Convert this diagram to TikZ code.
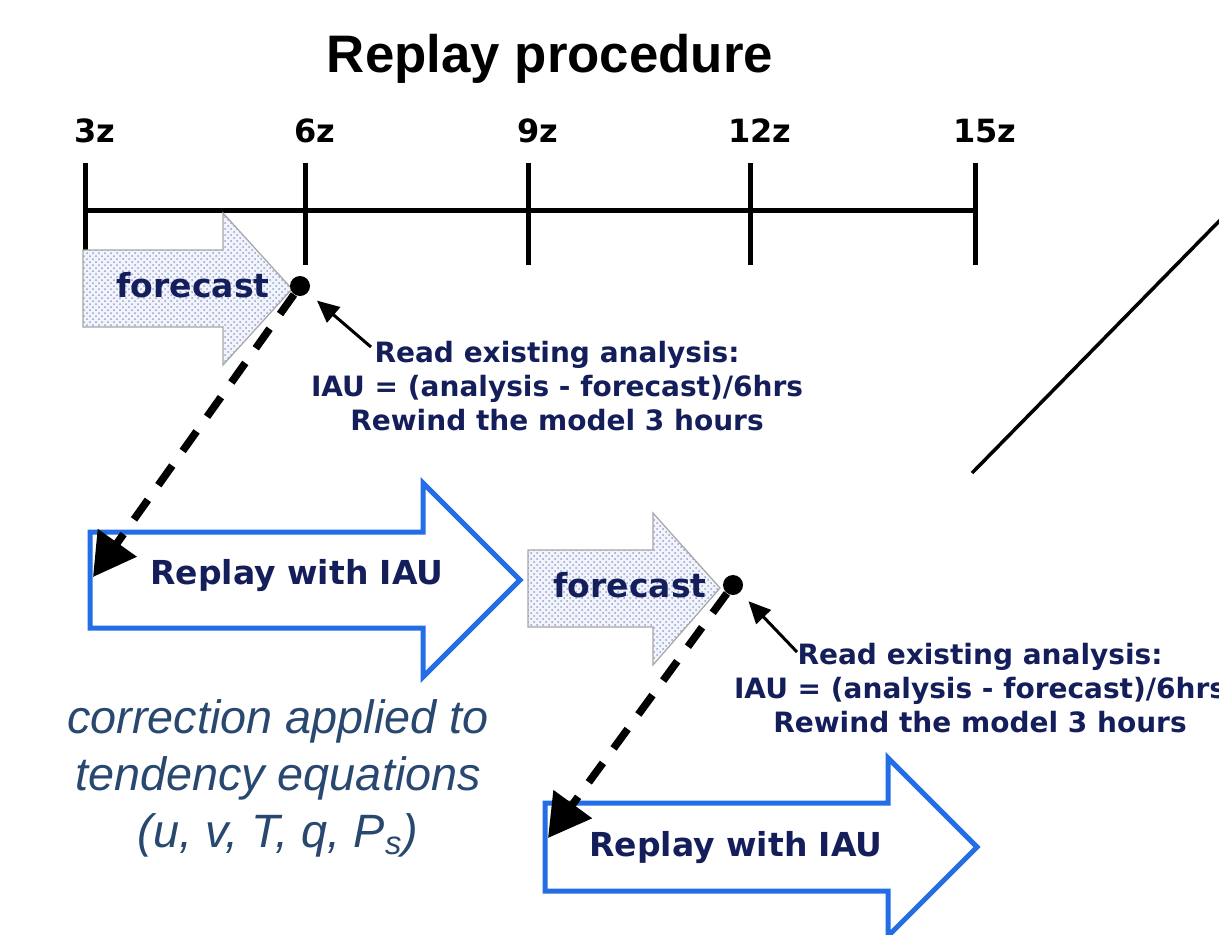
\documentclass[tikz,border=0pt]{standalone}
\usepackage{fontspec}
\setmainfont{DejaVu Sans}
\newfontfamily\arialfont{Liberation Sans}
\usetikzlibrary{arrows.meta,patterns}
\definecolor{navy}{RGB}{20,30,90}
\definecolor{boxblue}{RGB}{35,110,230}
\definecolor{steel}{RGB}{40,72,112}
\definecolor{dotcol}{RGB}{150,158,205}
\definecolor{fcfill}{RGB}{242,244,252}
\tikzset{
  tl/.style={line width=2.5pt},
  ticklab/.style={font=\bfseries\fontsize{16}{18}\selectfont, anchor=base},
  fcshape/.style={draw=gray!70, line width=0.6pt, preaction={fill=fcfill}, pattern=crosshatch dots, pattern color=dotcol},
  rpshape/.style={draw=boxblue, line width=2.5pt, fill=white, line join=miter},
  comic/.style={text=navy, font=\bfseries\fontsize{16.5}{20}\selectfont},
  note/.style={text=navy, font=\bfseries\fontsize{14}{17}\selectfont, align=center},
  dotn/.style={circle, fill=black, inner sep=0pt, minimum size=10pt},
  dasharrow/.style={line width=3.8pt, dash pattern=on 12pt off 9pt, -{Triangle[length=21pt,width=23pt]}},
  ptr/.style={line width=1.5pt, shorten >=6pt, -{Triangle[length=11pt,width=10pt]}},
  ital/.style={text=steel, font=\arialfont\itshape\fontsize{23.4}{28.5}\selectfont, align=center},
}
\begin{document}
\begin{tikzpicture}[x=0.5pt,y=-0.5pt]
\useasboundingbox (0,0) rectangle (1219,934);
% title
\node[font=\arialfont\bfseries\fontsize{26.4}{30}\selectfont, anchor=base] (title) at (550,72) {Replay procedure};
% timeline
\draw[tl] (85,210) -- (975,210);
\foreach \x/\l [count=\i] in {85/3z,305/6z,528/9z,750/12z,975/15z}{
  \draw[tl] (\x,163) -- (\x,265);
  \node[ticklab] (t\i) at (\x+10,142) {\l};
}
% forecast 1
\path[fcshape] (83,250) -- (223,250) -- (223,213) -- (292,289) -- (223,365) -- (223,327) -- (83,327) -- cycle;
\node[comic] (f1) at (193,285) {forecast};
% replay 1
\path[rpshape] (90,532) -- (423,532) -- (423,483) -- (520,580) -- (423,677) -- (423,628) -- (90,628) -- cycle;
\node[comic] (r1) at (297,576) {Replay with IAU};
% forecast 2
\path[fcshape] (528,550) -- (653,550) -- (653,513) -- (720,588) -- (653,665) -- (653,627) -- (528,627) -- cycle;
\node[comic] (f2) at (630,585) {forecast};
% replay 2
\path[rpshape] (545,803) -- (888,803) -- (888,758) -- (977,847) -- (888,936) -- (888,891) -- (545,891) -- cycle;
\node[comic] (r2) at (736,848) {Replay with IAU};
% dots
\node[dotn] (d1) at (300,286) {};
\node[dotn] (d2) at (733,585) {};
\coordinate (r1in) at (93,577);
\coordinate (r2in) at (548,838);
\draw[dasharrow] (d1) -- (r1in);
\draw[dasharrow] (d2) -- (r2in);
% notes
\node[note] (n1) at (557,386) {Read existing analysis:\\IAU = (analysis - forecast)/6hrs\\Rewind the model 3 hours};
\node[note] (n2) at (980,688) {Read existing analysis:\\IAU = (analysis - forecast)/6hrs\\Rewind the model 3 hours};
\coordinate (p1) at (371,347);
\coordinate (p2) at (797,652);
\draw[ptr] (p1) -- (d1);
\draw[ptr] (p2) -- (d2);
% diagonal line
\coordinate (g1) at (972,473);
\coordinate (g2) at (1232,208);
\draw[line width=1.75pt] (g1) -- (g2);
% italic note
\node[ital] (c1) at (278,778) {correction applied to\\tendency equations\\(u, v, T, q, P\textsubscript{s})};
\end{tikzpicture}
\end{document}
